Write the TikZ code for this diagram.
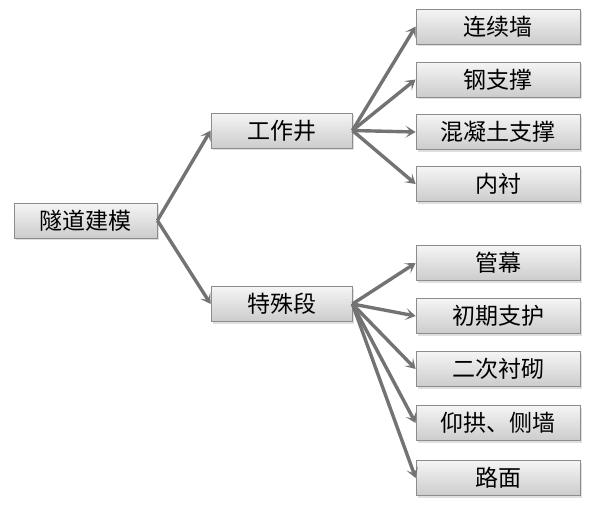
\documentclass[tikz,border=0pt]{standalone}
\usepackage{fontspec}
\setmainfont{Noto Sans CJK SC}
\usetikzlibrary{arrows.meta,shadows}
\begin{document}
\begin{tikzpicture}[x=1pt,y=-1pt,
  box/.style={draw=black!45, line width=0.8pt, top color=black!4, bottom color=black!20,
    minimum height=35pt, inner sep=0pt, font=\fontsize{23}{23}\selectfont,
    drop shadow={opacity=0.25, shadow xshift=1.5pt, shadow yshift=-2pt}},
  midbox/.style={box, minimum width=141pt},
  leafbox/.style={box, minimum width=164pt},
  arr/.style={draw=black!55, line width=3.4pt, -{Stealth[length=10pt,width=12pt,inset=5pt]}}]
\useasboundingbox (0,0) rectangle (594,504);
\node[box, minimum width=143pt] (root) at (85.5,220.5) {隧道建模};
\node[midbox] (gzj) at (281.5,130.5) {工作井};
\node[midbox] (tsd) at (281.5,304) {特殊段};
\node[leafbox] (a1) at (498,26.5) {连续墙};
\node[leafbox] (a2) at (498,79.5) {钢支撑};
\node[leafbox] (a3) at (498,132) {混凝土支撑};
\node[leafbox] (a4) at (498,184) {内衬};
\node[leafbox] (b1) at (498,263) {管幕};
\node[leafbox] (b2) at (498,316) {初期支护};
\node[leafbox] (b3) at (498,369) {二次衬砌};
\node[leafbox] (b4) at (498,423) {仰拱、侧墙};
\node[leafbox] (b5) at (498,478) {路面};
\draw[arr] (root.east) -- (gzj.west);
\draw[arr] (root.east) -- (tsd.west);
\foreach \t in {a1,a2,a3,a4} \draw[arr] (gzj.east) -- (\t.west);
\foreach \t in {b1,b2,b3,b4,b5} \draw[arr] (tsd.east) -- (\t.west);
\end{tikzpicture}
\end{document}
